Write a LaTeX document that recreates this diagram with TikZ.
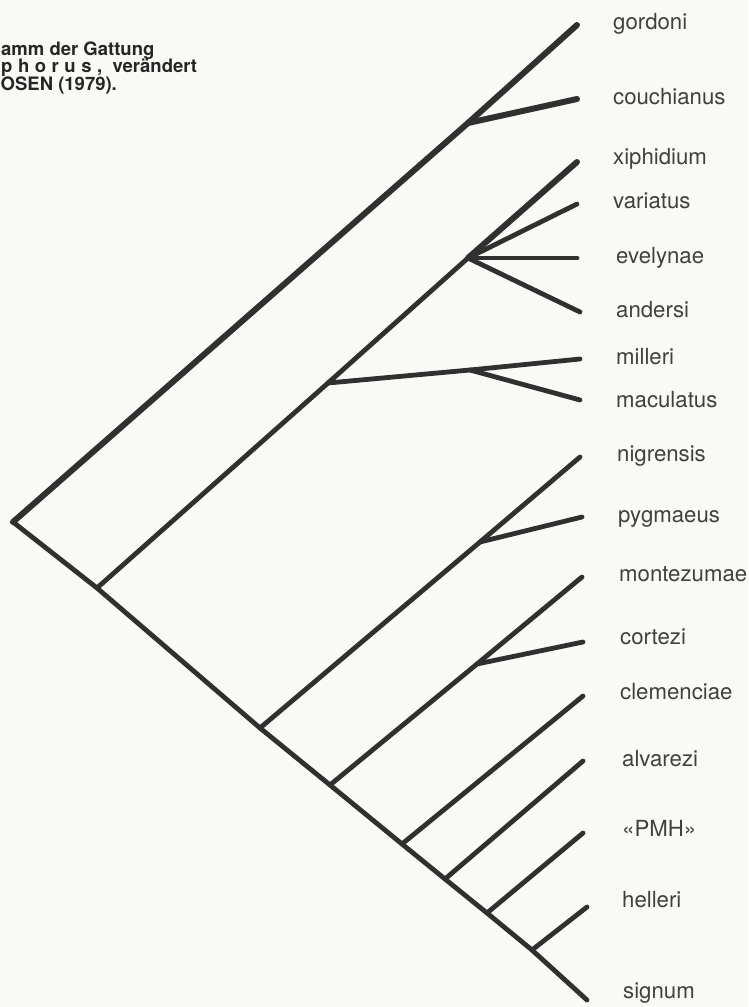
\documentclass[tikz,border=0pt]{standalone}
\usepackage{fontspec}
\setmainfont{TeX Gyre Heros}
\definecolor{bgcol}{HTML}{F9F9F6}
\definecolor{linecol}{HTML}{303030}
\definecolor{labcol}{HTML}{404040}
\definecolor{capcol}{HTML}{262626}
\begin{document}
\begin{tikzpicture}[x=1pt,y=-1pt,
  br/.style={draw=linecol, line width=4.8pt, line cap=round, line join=round},
  thickbr/.style={br, line width=6pt},
  lab/.style={anchor=base west, inner sep=0pt, text=labcol, font=\fontsize{22.2}{24}\selectfont},
  capt/.style={anchor=base west, inner sep=0pt, text=capcol, font=\bfseries\fontsize{18.5}{20}\selectfont}]
\useasboundingbox[fill=bgcol] (0,0) rectangle (748,1007);

% caption (left part cut off in the reference)
\node[capt] (c1) at (1,55) {amm der Gattung};
\node[capt] (c2) at (1,72.5) {{\addfontfeatures{LetterSpace=30}phorus,}\ \ verändert};
\node[capt] (c3) at (0.5,90) {OSEN (1979).};

% internal nodes
\coordinate (root) at (13,522);
\coordinate (A) at (468,123);
\coordinate (B) at (97,588);
\coordinate (C) at (328,383);
\coordinate (D) at (468,258);
\coordinate (E) at (470,370);
\coordinate (H) at (260,728);
\coordinate (F) at (480,542);
\coordinate (I) at (330,785);
\coordinate (G) at (477,664);
\coordinate (J) at (402,844);
\coordinate (K) at (445,879);
\coordinate (L) at (487,913);
\coordinate (M) at (532,950);

% tips
\coordinate (tgor) at (577,25);
\coordinate (tcou) at (577,99);
\coordinate (txip) at (577,162);
\coordinate (tvar) at (577,204);
\coordinate (teve) at (577,258);
\coordinate (tand) at (580,312);
\coordinate (tmil) at (580,359);
\coordinate (tmac) at (580,400);
\coordinate (tnig) at (580,457);
\coordinate (tpyg) at (582,517);
\coordinate (tmon) at (582,577);
\coordinate (tcor) at (583,642);
\coordinate (tcle) at (583,696);
\coordinate (talv) at (583,761);
\coordinate (tpmh) at (583,833);
\coordinate (thel) at (587,907);
\coordinate (tsig) at (587,1000);

% branches
\draw[thickbr] (root) -- (A) -- (tgor);
\draw[thickbr] (A) -- (tcou);
\draw[br] (root) -- (B) -- (H) -- (I) -- (J) -- (K) -- (L) -- (M) -- (tsig);
\draw[br] (B) -- (C) -- (D);
\draw[thickbr] (D) -- (txip);
\draw[br] (D) -- (tvar);
\draw[br] (D) -- (teve);
\draw[br] (D) -- (tand);
\draw[br] (C) -- (E) -- (tmil);
\draw[br] (E) -- (tmac);
\draw[br] (H) -- (F) -- (tnig);
\draw[br] (F) -- (tpyg);
\draw[br] (I) -- (G) -- (tmon);
\draw[br] (G) -- (tcor);
\draw[br] (J) -- (tcle);
\draw[br] (K) -- (talv);
\draw[br] (L) -- (tpmh);
\draw[br] (M) -- (thel);

% labels
\node[lab] (lgor) at (613,29) {gordoni};
\node[lab] (lcou) at (613,104) {couchianus};
\node[lab] (lxip) at (613,164) {xiphidium};
\node[lab] (lvar) at (613,208) {variatus};
\node[lab] (leve) at (616,263) {evelynae};
\node[lab] (land) at (616,317) {andersi};
\node[lab] (lmil) at (616,364) {milleri};
\node[lab] (lmac) at (616,407) {maculatus};
\node[lab] (lnig) at (617,461) {nigrensis};
\node[lab] (lpyg) at (618,522) {pygmaeus};
\node[lab] (lmon) at (619,581) {montezumae};
\node[lab] (lcor) at (620,644) {cortezi};
\node[lab] (lcle) at (620,699) {clemenciae};
\node[lab] (lalv) at (622,766) {alvarezi};
\node[lab] (lpmh) at (622,836) {«PMH»};
\node[lab] (lhel) at (622,907) {helleri};
\node[lab] (lsig) at (623,998) {signum};
\end{tikzpicture}
\end{document}
